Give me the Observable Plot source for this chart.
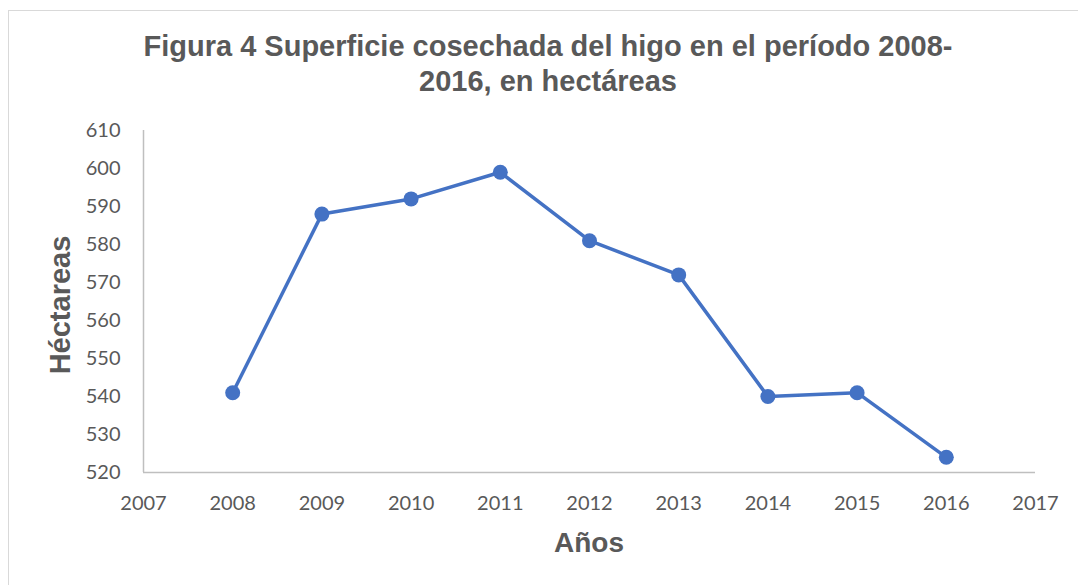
<!DOCTYPE html>
<html>
<head>
<meta charset="utf-8">
<script src="https://cdn.jsdelivr.net/npm/d3@7"></script>
<script src="https://cdn.jsdelivr.net/npm/@observablehq/plot@0.6"></script>
<style>
  html, body { margin: 0; padding: 0; background: #fff; }
  #wrap { position: relative; width: 1078px; height: 585px; overflow: hidden; }
  #frame { position: absolute; left: 8px; top: 10px; width: 1100px; height: 600px; border: 1px solid #d9d9d9; box-sizing: border-box; }
  .t { position: absolute; font-family: "Liberation Sans", Arial, sans-serif; font-weight: bold; color: #595959; white-space: nowrap; }
  #title { left: 0; width: 1096px; top: 29px; text-align: center; font-size: 29px; line-height: 35px; }
  #xlab { left: 589px; top: 543px; transform: translate(-50%, -50%); font-size: 28px; }
  #ylab { left: 60px; top: 305px; transform: translate(-50%, -50%) rotate(-90deg); font-size: 29px; }
  #chart { position: absolute; left: 0; top: 0; }
</style>
</head>
<body>
<div id="wrap">
  <div id="frame"></div>
  <div id="chart"></div>
  <div class="t" id="title">Figura 4 Superficie cosechada del higo en el período 2008-<br>2016, en hectáreas</div>
  <div class="t" id="xlab">Años</div>
  <div class="t" id="ylab">Héctareas</div>
</div>
<script>
const years = [2008, 2009, 2010, 2011, 2012, 2013, 2014, 2015, 2016];
const hectareas = [541, 588, 592, 599, 581, 572, 540, 541, 524];
const xTicks = [2007, 2008, 2009, 2010, 2011, 2012, 2013, 2014, 2015, 2016, 2017];
const yTicks = [520, 530, 540, 550, 560, 570, 580, 590, 600, 610];

const data = years.map((y, i) => ({year: y, value: hectareas[i]}));

const plot = Plot.plot({
  width: 1078,
  height: 585,
  marginLeft: 143,
  marginRight: 43,
  marginTop: 130,
  marginBottom: 113,
  style: {background: "transparent", fontFamily: "Lato, 'Open Sans', sans-serif", fontSize: "20px", color: "#595959", overflow: "visible"},
  x: {domain: [2007, 2017], label: null},
  y: {domain: [520, 610], label: null},
  marks: [
    Plot.axisX({ticks: xTicks, tickFormat: d => String(d), tickSize: 0, tickPadding: 23, fontSize: 20, fill: "#595959", label: null}),
    Plot.axisY({ticks: yTicks, tickSize: 0, tickPadding: 23, fontSize: 20, fill: "#595959", label: null}),
    Plot.ruleY([520], {stroke: "#bfbfbf", strokeWidth: 1.5}),
    Plot.ruleX([2007], {stroke: "#bfbfbf", strokeWidth: 1.5}),
    Plot.line(data, {x: "year", y: "value", stroke: "#4472C4", strokeWidth: 3.5}),
    Plot.dot(data, {x: "year", y: "value", fill: "#4472C4", r: 7.5})
  ]
});
document.getElementById("chart").appendChild(plot);
</script>
</body>
</html>
